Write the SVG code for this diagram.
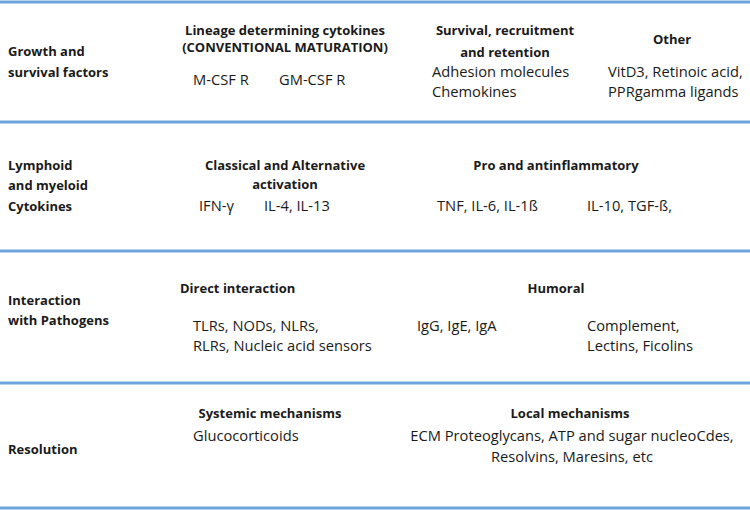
<svg xmlns="http://www.w3.org/2000/svg" width="750" height="510" viewBox="0 0 750 510">
<style>
text{font-family:"Open Sans","Liberation Sans",sans-serif;font-size:14.7px;fill:#1a1a1a}
.b{font-weight:bold;font-size:13px}
.c{text-anchor:middle}
.ln{stroke:#6ea6dc;stroke-width:3}
</style>
<rect width="750" height="510" fill="#fff"/>
<g id="lines">
<line class="ln" x1="0" y1="2" x2="750" y2="2"/>
<line class="ln" x1="0" y1="122" x2="750" y2="122"/>
<line class="ln" x1="0" y1="251" x2="750" y2="251"/>
<line class="ln" x1="0" y1="383" x2="750" y2="383"/>
<line class="ln" x1="0" y1="508" x2="750" y2="508"/>
</g>
<g transform="translate(0,5)">
<g id="row1">
<text class="b" x="8" y="51">Growth and</text>
<text class="b" x="8" y="72">survival factors</text>
<text class="b c" x="285" y="30">Lineage determining cytokines</text>
<text class="b c" x="285" y="47">(CONVENTIONAL MATURATION)</text>
<text x="193" y="80">M-CSF R</text>
<text x="279" y="80">GM-CSF R</text>
<text class="b c" x="505" y="30">Survival, recruitment</text>
<text class="b c" x="505" y="52">and retention</text>
<text x="432" y="72">Adhesion molecules</text>
<text x="432" y="92">Chemokines</text>
<text class="b c" x="672" y="39">Other</text>
<text x="608" y="72">VitD3, Retinoic acid,</text>
<text x="608" y="92">PPRgamma ligands</text>
</g>
<g id="row2">
<text class="b" x="8" y="165">Lymphoid</text>
<text class="b" x="8" y="185">and myeloid</text>
<text class="b" x="8" y="206">Cytokines</text>
<text class="b c" x="285" y="165">Classical and Alternative</text>
<text class="b c" x="285" y="184">activation</text>
<text x="199" y="206">IFN-γ</text>
<text x="264" y="206">IL-4, IL-13</text>
<text class="b c" x="556" y="165">Pro and antinflammatory</text>
<text x="437" y="206">TNF, IL-6, IL-1ß</text>
<text x="587" y="206">IL-10, TGF-ß,</text>
</g>
<g id="row3">
<text class="b" x="8" y="300">Interaction</text>
<text class="b" x="8" y="320">with Pathogens</text>
<text class="b" x="180" y="288">Direct interaction</text>
<text x="193" y="326">TLRs, NODs, NLRs,</text>
<text x="193" y="346">RLRs, Nucleic acid sensors</text>
<text class="b c" x="556" y="288">Humoral</text>
<text x="417" y="326">IgG, IgE, IgA</text>
<text x="587" y="326">Complement,</text>
<text x="587" y="346">Lectins, Ficolins</text>
</g>
<g id="row4">
<text class="b" x="8" y="449">Resolution</text>
<text class="b c" x="270" y="413">Systemic mechanisms</text>
<text x="193" y="436">Glucocorticoids</text>
<text class="b c" x="570" y="413">Local mechanisms</text>
<text class="c" x="572" y="436">ECM Proteoglycans, ATP and sugar nucleoCdes,</text>
<text class="c" x="572" y="457">Resolvins, Maresins, etc</text>
</g>
</g>
</svg>
